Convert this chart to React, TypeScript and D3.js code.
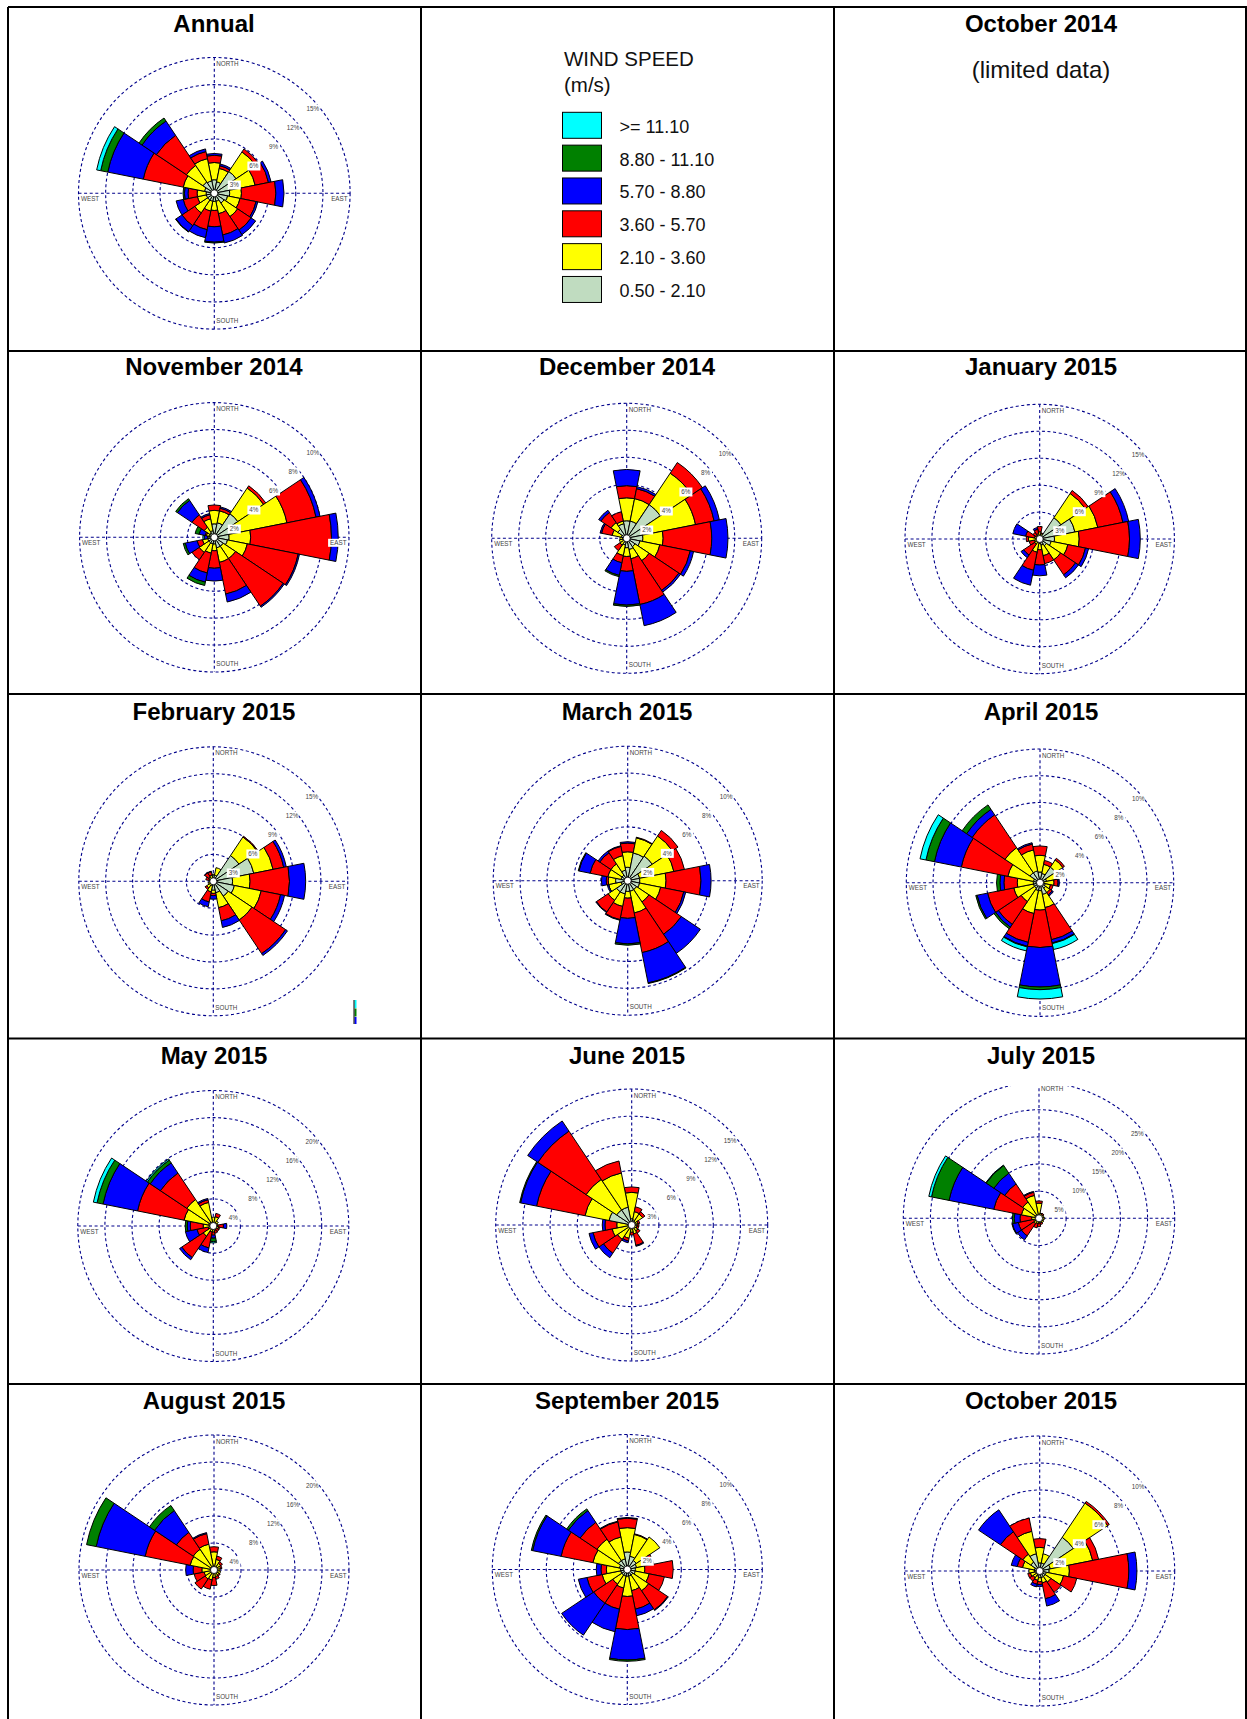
import React from "react";
import * as d3 from "d3";

const speedClasses = [">= 11.10", "8.80 - 11.10", "5.70 - 8.80", "3.60 - 5.70", "2.10 - 3.60", "0.50 - 2.10"];
const classColors = ["#c0dcc0", "#ffff00", "#ff0000", "#0000ff", "#008000", "#00ffff"];
const directions = ["N", "NNE", "NE", "ENE", "E", "ESE", "SE", "SSE", "S", "SSW", "SW", "WSW", "W", "WNW", "NW", "NNW"];

// cumulative percent at the outer edge of each speed class (calm to strong), per direction N..NNW
const annual = [[1.5,3.4,4.2,4.4],[1.3,2.8,3.1,3.3],[2.9,5.5,5.9],[1.8,4.6,6.1,6.4],[1.7,3.0,6.8,7.7],[1.5,2.9,4.7,4.9],[1.3,3.1,4.9,5.5],[0.9,2.3,4.7,5.6],[0.9,1.9,3.7,5.4,5.5],[0.9,2.0,4.1,5.0],[0.9,2.6,4.3,5.1,5.15],[0.9,1.9,3.5,4.3],[0.9,1.9,2.9,3.3,3.45],[1.1,3.5,8.0,12.0,12.8,13.25],[1.5,3.7,7.7,9.6,10.0],[1.4,3.9,4.7,5.0]];
const nov2014 = [[1.0,2.0,2.4],[1.1,2.0,2.2,2.3],[2.1,4.4,4.6],[1.3,5.5,7.7,8.0],[1.1,2.7,8.7,9.2],[1.0,2.5,6.35,6.45],[0.8,1.9,6.15,6.25],[0.8,1.9,4.3,4.9],[0.5,1.0,2.3,3.25],[0.5,1.2,2.7,3.4,3.65],[0.5,1.35,2.0],[0.5,0.9,1.3,2.2,2.35],[0.4,0.5,0.5,0.75,0.75,0.85],[0.4,0.6,0.7,1.15,1.45],[0.4,0.9,2.0,3.3,3.45],[0.5,1.4,1.7,1.8]];
const dec2014 = [[1.3,3.0,3.9,5.1],[1.3,3.0,3.75,3.9],[3.0,5.8,6.75],[1.2,5.2,6.6,7.0],[1.2,2.7,6.3,7.5],[1.0,2.5,4.8,5.05],[0.75,2.0,4.65,4.8],[0.85,1.55,5.0,6.6],[0.7,1.35,2.45,4.95,5.05],[0.5,1.3,1.85,2.8,2.9],[0.3,0.6,1.1],[0.3,0.55],[0.3,0.5],[0.4,1.1,1.9,2.0],[0.8,1.4,2.3,2.5],[1.1,1.3,2.0]];
const jan2015 = [[0.4,0.8,1.4],[0.3,0.6,0.7],[2.85,6.1,6.5],[4.0,6.6,9.45,10.1],[1.65,4.4,10.0,11.2],[1.3,3.2,5.2,5.55],[0.9,2.8,4.8,5.2],[0.7,1.9,2.8],[0.5,1.2,2.9,4.1],[0.4,1.5,3.55,5.25],[0.3,0.7,2.15,2.5],[0.3,0.6,1.2],[0.3,1.25,1.5],[0.3,0.6,1.6,3.05],[0.3,0.5,0.9],[0.3,0.6,1.1,1.3]];
const feb2015 = [[0.7,0.8],[0.7,1.55],[3.45,5.95,6.05],[4.6,6.8,8.0,8.3],[2.15,4.1,8.5,10.3],[2.4,5.45,7.65,8.1],[2.0,5.2,9.7,9.95],[1.3,3.0,4.5,5.25],[1.0,1.35,1.6,2.0],[0.5,1.2,2.35,2.9],[0.4,0.9,1.1],[0.3,0.6],[0.3,0.4],[0.3,0.5,0.85],[0.3,0.6,1.15,1.2],[0.3,0.7,1.1,1.15]];
const mar2015 = [[1.0,2.15,2.8,2.9],[2.1,3.25,3.3],[2.2,4.0,4.5],[0.9,3.5,4.3],[0.9,2.85,5.45,6.2],[0.9,2.5,4.25,4.4],[0.8,1.9,4.8,6.5],[0.8,2.45,5.45,7.75,7.8],[0.8,1.3,2.8,4.7,4.8],[1.0,1.95,2.95,3.0],[1.0,1.75,2.8,2.85],[0.5,1.45,1.45,1.55],[0.9,1.45,1.6,1.95],[0.5,1.5,2.85,3.7,3.75],[0.5,1.5,2.5,2.65],[0.8,1.9,2.6,2.65]];
const apr2015 = [[0.8,2.05,2.75],[0.7,1.4,1.7],[1.4,2.05,2.2],[0.5,1.25],[0.3,1.05,1.35,1.45],[0.4,0.8,1.0],[0.5,0.9,1.1,1.2],[0.9,1.9,4.35,4.6,4.65,5.1],[0.6,2.05,4.85,7.8,8.0,8.7],[0.6,2.35,4.55,4.85,4.9,5.2],[0.5,1.7,3.75,4.0,4.15],[0.5,2.0,4.0,4.8,4.9],[0.5,1.7,2.7,3.0,3.25],[0.5,2.45,6.0,8.05,8.7,9.15],[0.9,3.15,6.1,6.6,7.0],[0.9,2.5,2.95,3.05]];
const may2015 = [[0.5,1.3],[0.5,1.4,1.9],[0.5,0.9],[0.3,0.7],[0.5,0.7,1.5,2.0],[0.5,0.8,1.0],[0.3,0.6,1.0],[0.4,0.7,1.1],[0.5,0.9,1.35,1.8,2.3,2.5],[0.5,0.9,3.3,4.0],[0.5,1.8,5.6,6.0],[0.5,0.8,2.45,4.2],[0.5,1.5,3.4,3.85,4.15],[0.7,4.4,11.4,16.6,17.5,18.05],[0.7,4.7,9.4,11.2,11.7,11.9],[0.6,3.55,3.95,4.15]];
const jun2015 = [[0.7,3.6,4.2],[0.6,1.5,2.05],[0.5,1.45,1.75],[0.4,0.7,0.9],[0.4,0.6,0.8],[0.3,0.6,0.8],[0.4,0.8,1.1],[0.4,1.0,2.3,2.4],[0.4,0.8,1.1],[0.4,1.5,1.8,2.0],[0.4,1.9,3.75,4.35],[0.4,2.2,4.35,4.8],[0.4,1.65,2.95,3.25],[2.55,5.25,10.7,12.5,12.6],[2.0,6.05,12.45,13.8],[2.0,5.85,7.2]];
const jul2015 = [[0.5,2.8,3.2],[0.5,0.9,1.0],[0.5,0.9,1.1],[0.5,0.9],[0.5,1.0],[0.5,0.9],[0.5,1.0],[0.5,0.9,1.2],[0.5,0.9,1.55],[0.5,1.0,1.8],[0.5,1.2,3.9,4.8],[0.5,1.0,3.9,5.0,5.1],[0.5,1.35,3.5,4.55,4.9],[0.8,3.3,8.5,16.9,20.2,20.7],[0.8,3.6,7.6,10.0,11.7,11.8],[0.7,4.3,4.9,5.05]];
const aug2015 = [[0.5,2.7,3.45],[0.5,1.6,2.1],[0.5,1.2,1.5],[0.5,1.0,1.2],[0.5,0.9],[0.5,1.0],[0.5,0.9,1.1],[0.5,1.0,1.4],[0.5,1.1,2.3],[0.5,1.5,2.9],[0.5,1.6,3.4],[0.5,1.5,3.0],[0.5,1.8,3.1,4.2],[0.6,3.6,10.4,17.8,19.25],[0.6,3.7,6.7,10.6,11.5],[0.6,3.9,5.5,5.65]];
const sep2015 = [[1.3,3.1,3.8,3.85],[1.0,2.65,2.7],[0.8,2.9],[0.7,1.6,2.0],[0.6,1.3,3.4],[0.6,1.65,2.8],[0.5,1.9,3.6,3.65],[0.5,1.6,3.0,3.5],[0.5,2.0,4.45,6.7,6.8],[0.5,1.4,3.0,4.7],[0.5,1.3,3.0,5.85],[0.5,1.9,3.05,3.7],[0.5,1.55,1.95,2.3],[0.6,2.6,5.0,7.15,7.25],[0.8,2.7,4.2,5.25,5.4],[0.8,2.45,3.6,3.65]];
const oct2015 = [[0.6,1.75,2.4],[0.6,1.3],[3.0,6.05,6.2],[0.8,4.0,4.45],[0.7,2.2,6.6,7.2],[0.5,1.8,2.8],[0.5,1.0,1.9],[0.5,0.9,2.1,2.65],[0.5,0.8,1.0,1.15],[0.4,0.7,1.0,1.2],[0.3,0.6,0.9],[0.3,0.7,0.9],[0.4,0.8],[0.4,1.3,1.7,2.15],[0.8,1.5,3.5,5.45],[1.3,3.0,4.0]];

const ticks3 = [3, 6, 9, 12, 15];
const ticks2 = [2, 4, 6, 8, 10];
const ticks4 = [4, 8, 12, 16, 20];
const ticks5 = [5, 10, 15, 20, 25];

const TOP = 7, ROWS = [351, 694, 1038.5, 1384], VERT = [8, 421, 834, 1246];
const COLX = [214, 627, 1041];
const TITLEY = [32, 375, 720, 1064, 1409];

const panels = [
  { title: "Annual", data: annual, ticks: ticks3, cx: 214.3, cy: 193.3, R: 135.8, tx: COLX[0], ty: TITLEY[0] },
  { title: "November 2014", data: nov2014, ticks: ticks2, cx: 214.3, cy: 537.3, R: 134.7, tx: COLX[0], ty: TITLEY[1] },
  { title: "December 2014", data: dec2014, ticks: ticks2, cx: 626.7, cy: 538.3, R: 135, tx: COLX[1], ty: TITLEY[1] },
  { title: "January 2015", data: jan2015, ticks: ticks3, cx: 1039.7, cy: 539, R: 134.7, tx: COLX[2], ty: TITLEY[1] },
  { title: "February 2015", data: feb2015, ticks: ticks3, cx: 213.3, cy: 881.3, R: 134.5, tx: COLX[0], ty: TITLEY[2] },
  { title: "March 2015", data: mar2015, ticks: ticks2, cx: 627.7, cy: 880.7, R: 134.5, tx: COLX[1], ty: TITLEY[2] },
  { title: "April 2015", data: apr2015, ticks: ticks2, cx: 1040, cy: 882.7, R: 133.7, tx: COLX[2], ty: TITLEY[2] },
  { title: "May 2015", data: may2015, ticks: ticks4, cx: 213.3, cy: 1226, R: 135.5, tx: COLX[0], ty: TITLEY[3] },
  { title: "June 2015", data: jun2015, ticks: ticks3, cx: 631.7, cy: 1225, R: 136, tx: COLX[1], ty: TITLEY[3] },
  { title: "July 2015", data: jul2015, ticks: ticks5, cx: 1039, cy: 1218.3, R: 135.7, tx: COLX[2], ty: TITLEY[3], clipTop: 1086 },
  { title: "August 2015", data: aug2015, ticks: ticks4, cx: 214, cy: 1570, R: 135, tx: COLX[0], ty: TITLEY[4] },
  { title: "September 2015", data: sep2015, ticks: ticks2, cx: 627.3, cy: 1569.5, R: 135, tx: COLX[1], ty: TITLEY[4] },
  { title: "October 2015", data: oct2015, ticks: ticks2, cx: 1039.7, cy: 1571, R: 135, tx: COLX[2], ty: TITLEY[4] },
];

const FONT = "'Liberation Sans', Arial, sans-serif";
const NAVY = "#00008b";
const HOLE = 3.5;

function Rose({ p, idx }: { p: any; idx: number }) {
  const r = d3.scaleLinear().domain([0, p.ticks[p.ticks.length - 1]]).range([0, p.R]);
  const step = (2 * Math.PI) / directions.length;
  const arc = d3.arc();
  const clipId = `clip-${idx}`;
  const cardinals = [
    { t: "NORTH", x: 2, y: -p.R + 8.5, a: "start" },
    { t: "SOUTH", x: 2, y: p.R - 6, a: "start" },
    { t: "WEST", x: -p.R + 2.5, y: 7.5, a: "start" },
    { t: "EAST", x: p.R - 2.5, y: 7.5, a: "end" },
  ];
  return (
    <g transform={`translate(${p.cx},${p.cy})`}>
      {p.clipTop != null && (
        <clipPath id={clipId}>
          <rect x={-p.R - 5} y={p.clipTop - p.cy} width={2 * p.R + 10} height={2 * p.R + 10} />
        </clipPath>
      )}
      <g clipPath={p.clipTop != null ? `url(#${clipId})` : undefined} fill="none" stroke={NAVY} strokeWidth={1.1} strokeDasharray="3 2.6">
        {p.ticks.map((t: number) => <circle key={t} r={r(t)} />)}
        <line x1={-p.R} x2={p.R} y1={0} y2={0} />
        <line x1={0} x2={0} y1={-p.R} y2={p.R} />
      </g>
      {p.data.map((cum: number[], k: number) =>
        cum.map((v, i) => (
          <path
            key={`${k}-${i}`}
            d={arc({
              innerRadius: i === 0 ? HOLE : r(cum[i - 1]),
              outerRadius: r(v),
              startAngle: (k - 0.5) * step,
              endAngle: (k + 0.5) * step,
            }) as string}
            fill={classColors[i]}
            stroke="#000"
            strokeWidth={1}
          />
        ))
      )}
      <circle r={HOLE} fill="#fff" stroke="#000" strokeWidth={0.8} />
      {p.ticks.map((t: number, i: number) => {
        const x = 20 + 19.6 * i;
        const y = -8.3 - 19 * i;
        return (
          <g key={t}>
            <rect x={x - 6.5} y={y - 4.5} width={13} height={9} fill="#fff" />
            <text x={x} y={y + 2.2} fontSize={6.3} fontFamily={FONT} fill="#444" textAnchor="middle">{t}%</text>
          </g>
        );
      })}
      {cardinals.map((c) => {
        const w = c.t.length * 4.6;
        return (
          <g key={c.t}>
            <rect x={c.a === "end" ? c.x - w : c.x - 0.5} y={c.y - 6} width={w} height={8} fill="#fff" />
            <text x={c.x} y={c.y} fontSize={6.3} fontFamily={FONT} fill="#444" textAnchor={c.a as any}>{c.t}</text>
          </g>
        );
      })}
    </g>
  );
}

function Legend() {
  const y = d3.scaleBand().domain(speedClasses).range([112.3, 309.3]).padding(0);
  const order = [...classColors].reverse();
  return (
    <g fontFamily={FONT} fill="#111">
      <text x={564} y={65.5} fontSize={20.5}>WIND SPEED</text>
      <text x={564} y={91.5} fontSize={20.5}>(m/s)</text>
      {speedClasses.map((s, i) => (
        <g key={s}>
          <rect x={562.5} y={(y(s) as number)} width={39} height={26} fill={order[i]} stroke="#000" strokeWidth={1} />
          <text x={619.5} y={(y(s) as number) + 20.5} fontSize={18}>{s}</text>
        </g>
      ))}
    </g>
  );
}

export default function App() {
  return (
    <svg width={1247} height={1719} style={{ position: "absolute", left: 0, top: 0, display: "block", background: "#fff" }}>
      {panels.map((p, i) => <Rose key={p.title} p={p} idx={i} />)}
      {[TOP, ...ROWS].map((y) => <line key={y} x1={VERT[0]} x2={1247} y1={y} y2={y} stroke="#000" strokeWidth={2} />)}
      {VERT.map((x) => <line key={x} x1={x} x2={x} y1={TOP} y2={1719} stroke="#000" strokeWidth={2} />)}
      {panels.map((p) => (
        <text key={p.title} x={p.tx} y={p.ty} textAnchor="middle" fontFamily={FONT} fontWeight={700} fontSize={24} fill="#000">{p.title}</text>
      ))}
      <text x={COLX[2]} y={TITLEY[0]} textAnchor="middle" fontFamily={FONT} fontWeight={700} fontSize={24} fill="#000">October 2014</text>
      <text x={COLX[2]} y={78} textAnchor="middle" fontFamily={FONT} fontSize={24} fill="#111">(limited data)</text>
      <Legend />
      <g>
        <rect x={354.5} y={1000} width={2} height={8} fill="#00ffff" />
        <rect x={354.5} y={1008.5} width={2} height={8} fill="#008000" />
        <rect x={354.5} y={1017} width={2} height={7} fill="#0000ff" />
        <line x1={354} x2={354} y1={1000} y2={1024} stroke="#000" strokeWidth={1} />
      </g>
    </svg>
  );
}
